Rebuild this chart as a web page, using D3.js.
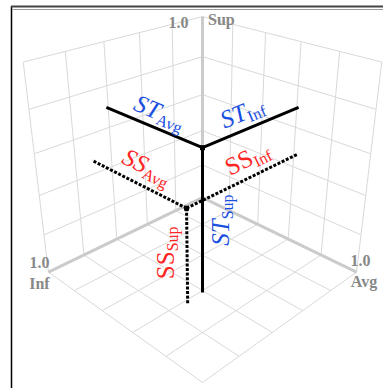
<!DOCTYPE html>
<html>
<head>
<meta charset="utf-8">
<script src="https://cdn.jsdelivr.net/npm/d3@7"></script>
<style>
  body { margin: 0; background: #fff; }
  svg { display: block; font-family: "Liberation Serif", "DejaVu Serif", serif; }
</style>
</head>
<body>
<div id="chart"></div>
<script>
// cube axes, in x / y / z order
const axisNames = ['Avg', 'Inf', 'Sup'];
const axisMaxLabel = '1.0';
const gridTicks = [0, 0.2, 0.4, 0.6, 0.8, 1.0];

// series values, same order as axisNames
const seriesNames = ['ST', 'SS'];
const stValues = [0.61, 0.61, 0.70];
const ssValues = [0.62, 0.71, 0.47];

const width = 383, height = 388;

const svg = d3.select('#chart').append('svg')
  .attr('width', width)
  .attr('height', height);

// data -> cube space (cube centred on the origin)
const cube = d3.scaleLinear().domain([0, 1]).range([-0.5, 0.5]);

// perspective camera looking at the cube corner from above
const elev = 27 * Math.PI / 180;
const dist = 3.0, focal = 703;
const screenX = d3.scaleLinear().domain([-1, 1]).range([202.5 - focal, 202.5 + focal]);
const screenY = d3.scaleLinear().domain([-1, 1]).range([175 + focal, 175 - focal]);

function project(p) {
  const x = cube(p[0]), y = cube(p[1]), z = cube(p[2]);
  const se = Math.sin(elev), ce = Math.cos(elev);
  const right = (x - y) / Math.SQRT2;
  const up = -se * (x + y) / Math.SQRT2 + ce * z;
  const depth = dist - (ce * (x + y) / Math.SQRT2 + se * z);
  return [screenX(right / depth), screenY(up / depth)];
}

const line = d3.line();
const seg = (a, b) => line([project(a), project(b)]);

// frame of the figure (cut by the window)
svg.append('line').attr('x1', 11.5).attr('y1', 6).attr('x2', 11.5).attr('y2', height)
  .attr('stroke', '#000').attr('stroke-width', 1.5);
svg.append('line').attr('x1', 11).attr('y1', 6.5).attr('x2', width).attr('y2', 6.5)
  .attr('stroke', '#444').attr('stroke-width', 2);
svg.append('line').attr('x1', 12).attr('y1', 9.5).attr('x2', width).attr('y2', 9.5)
  .attr('stroke', '#999').attr('stroke-width', 1);

// grid on the floor and the two back walls
const gridSegs = [];
gridTicks.forEach(t => {
  gridSegs.push([[t, 0, 0], [t, 1, 0]], [[0, t, 0], [1, t, 0]]); // floor
  gridSegs.push([[0, t, 0], [0, t, 1]], [[0, 0, t], [0, 1, t]]); // Avg = 0 wall
  gridSegs.push([[t, 0, 0], [t, 0, 1]], [[0, 0, t], [1, 0, t]]); // Inf = 0 wall
});
svg.append('g').selectAll('path')
  .data(gridSegs)
  .enter().append('path')
  .attr('d', d => seg(d[0], d[1]))
  .attr('fill', 'none')
  .attr('stroke', '#d9d9d9')
  .attr('stroke-width', 1);

// axis lines from the back corner
const axisEnds = [[1, 0, 0], [0, 1, 0], [0, 0, 1]];
svg.append('g').selectAll('path')
  .data(axisEnds)
  .enter().append('path')
  .attr('d', d => seg([0, 0, 0], d))
  .attr('stroke', '#cbcbcb')
  .attr('stroke-width', 3);

// axis end labels: [dx, dy, anchor] for "1.0" and the name
const axisLabelPos = {
  Avg: [[4, -6, 'middle'], [7.5, 15, 'middle']],
  Inf: [[-9, -4, 'middle'], [-9, 17, 'middle']],
  Sup: [[-14, 11, 'end'], [5.5, 8, 'start']]
};
axisNames.forEach((name, i) => {
  const [px, py] = project(axisEnds[i]);
  const pos = axisLabelPos[name];
  [axisMaxLabel, name].forEach((txt, k) => {
    svg.append('text')
      .attr('x', px + pos[k][0])
      .attr('y', py + pos[k][1])
      .attr('text-anchor', pos[k][2])
      .attr('font-size', 16)
      .attr('font-weight', 'bold')
      .attr('fill', '#888')
      .text(txt);
  });
});

// series: node with drop lines to the three back planes
const series = [
  { name: seriesNames[0], values: stValues, dash: null, color: '#1a4fe0',
    italic: { Avg: true, Inf: true, Sup: true },
    offset: { Avg: [-1, -14], Inf: [-2, -15], Sup: [0, 20] } },
  { name: seriesNames[1], values: ssValues, dash: '3,1.6', color: '#ff2626',
    italic: { Avg: true, Inf: false, Sup: false },
    offset: { Avg: [-1, -17], Inf: [15, -16], Sup: [3, -19] } }
];

series.forEach(sr => {
  const v = sr.values;
  const g = svg.append('g');
  axisNames.forEach((name, i) => {
    const end = v.slice();
    end[i] = 0;
    g.append('path')
      .attr('d', seg(v, end))
      .attr('fill', 'none')
      .attr('stroke', '#000')
      .attr('stroke-width', 3)
      .attr('stroke-dasharray', sr.dash);

    // label along the drop line
    const a = project(v), b = project(end);
    const mid = [(a[0] + b[0]) / 2, (a[1] + b[1]) / 2];
    let ang = Math.atan2(b[1] - a[1], b[0] - a[0]) * 180 / Math.PI;
    if (Math.abs(Math.abs(ang) - 90) < 20) ang = -90;
    else if (ang > 90) ang -= 180;
    else if (ang < -90) ang += 180;
    const off = sr.offset[name];
    const t = g.append('text')
      .attr('transform', `translate(${mid[0]},${mid[1]}) rotate(${ang}) translate(${off[0]},${off[1]})`)
      .attr('y', 6)
      .attr('text-anchor', 'middle')
      .attr('fill', sr.color);
    t.append('tspan')
      .attr('font-size', 25)
      .attr('font-style', sr.italic[name] ? 'italic' : 'normal')
      .text(sr.name);
    t.append('tspan')
      .attr('font-size', 16)
      .attr('dy', 4)
      .text(name);
  });
  const n = project(v);
  g.append('rect')
    .attr('x', n[0] - 2.5).attr('y', n[1] - 2.5)
    .attr('width', 5).attr('height', 5)
    .attr('fill', '#000');
});
</script>
</body>
</html>
